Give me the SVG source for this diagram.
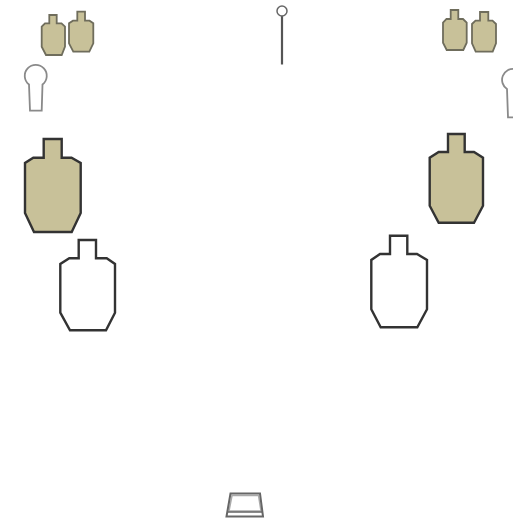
<svg xmlns="http://www.w3.org/2000/svg" width="513" height="522" viewBox="0 0 513 522">
<style>
.big{stroke:#333;stroke-width:2.4;stroke-linejoin:miter}
.small{stroke:#6f6d5c;stroke-width:1.8}
.tan{fill:#c8c199}
.white{fill:#fff}
.key{fill:#fff;stroke:#8a8a8a;stroke-width:1.8}
.pin{fill:#fff;stroke:#666;stroke-width:1.5}
.box{fill:none;stroke:#666;stroke-width:2}
.box-inner{fill:none;stroke:#aaa;stroke-width:1.5}
</style>
<rect width="513" height="522" fill="#fff"/>
<g id="connectors"></g>
<g id="target-small-left-1"><polygon class="tan small" points="49.3,15 56.7,15 56.7,23.3 61.5,23.3 65,26.7 65,46.7 61.7,55 46,55 41.7,46.7 41.7,26.7 45,23.3 49.3,23.3"/></g>
<g id="target-small-left-2"><polygon class="tan small" points="77.3,11.7 85,11.7 85,20.7 89.5,20.7 93.3,23.3 93.3,43.3 89.3,51.7 73.3,51.7 69,43.3 69,23.3 73,20.7 77.3,20.7"/></g>
<g id="target-small-right-1"><polygon class="tan small" points="450.7,10 458.3,10 458.3,19 463,19 466.7,22.7 466.7,42.7 463.3,50 446.7,50 443,42.7 443,22.7 446.5,19 450.7,19"/></g>
<g id="target-small-right-2"><polygon class="tan small" points="480,12 488.3,12 488.3,20.7 492.5,20.7 496,24 496,43.3 492.7,51.7 475.7,51.7 472,43.3 472,24 475.5,20.7 480,20.7"/></g>
<g id="keyhole-left"><path class="key" d="M29,84.5 A11,11 0 1 1 42.5,84.5 L41.7,110.7 L30,110.7 Z"/></g>
<g id="keyhole-right"><path class="key" d="M515,69 A11,11 0 0 0 507,89 L508,117.3 L515,117.3"/></g>
<g id="pin"><line x1="282" y1="16" x2="282" y2="64.5" stroke="#555" stroke-width="2.2"/><circle class="pin" cx="282" cy="11" r="5"/></g>
<g id="target-large-left"><polygon class="tan big" points="43.7,139 61.7,139 61.7,157.7 71.5,157.7 80.7,163 80.7,213 71.7,232 34,232 25,213 25,163 33.3,157.7 43.7,157.7"/></g>
<g id="target-large-right"><polygon class="tan big" points="448,134 464.7,134 464.7,152 474,152 483,157.7 483,205.7 474,222.7 438.7,222.7 429.7,205.7 429.7,157.7 438.7,152 448,152"/></g>
<g id="target-white-left"><polygon class="white big" points="78.7,240 96,240 96,258.3 106.7,258.3 115,264 115,312.7 106,330.3 70,330.3 60.3,312.7 60.3,264 69.3,258.3 78.7,258.3"/></g>
<g id="target-white-right"><polygon class="white big" points="390,235.7 407.3,235.7 407.3,254 417,254 427,260 427,309.3 417.3,327.3 380.7,327.3 371.3,309.3 371.3,260 380,254 390,254"/></g>
<g id="box"><polygon class="box-inner" points="232,495.5 258.5,495.5 261,511 229,511"/><polygon class="box" points="230.5,493.5 260,493.5 263,516.5 226.5,516.5"/><line x1="228" y1="512" x2="262" y2="512" stroke="#666" stroke-width="1.5"/></g>
</svg>
